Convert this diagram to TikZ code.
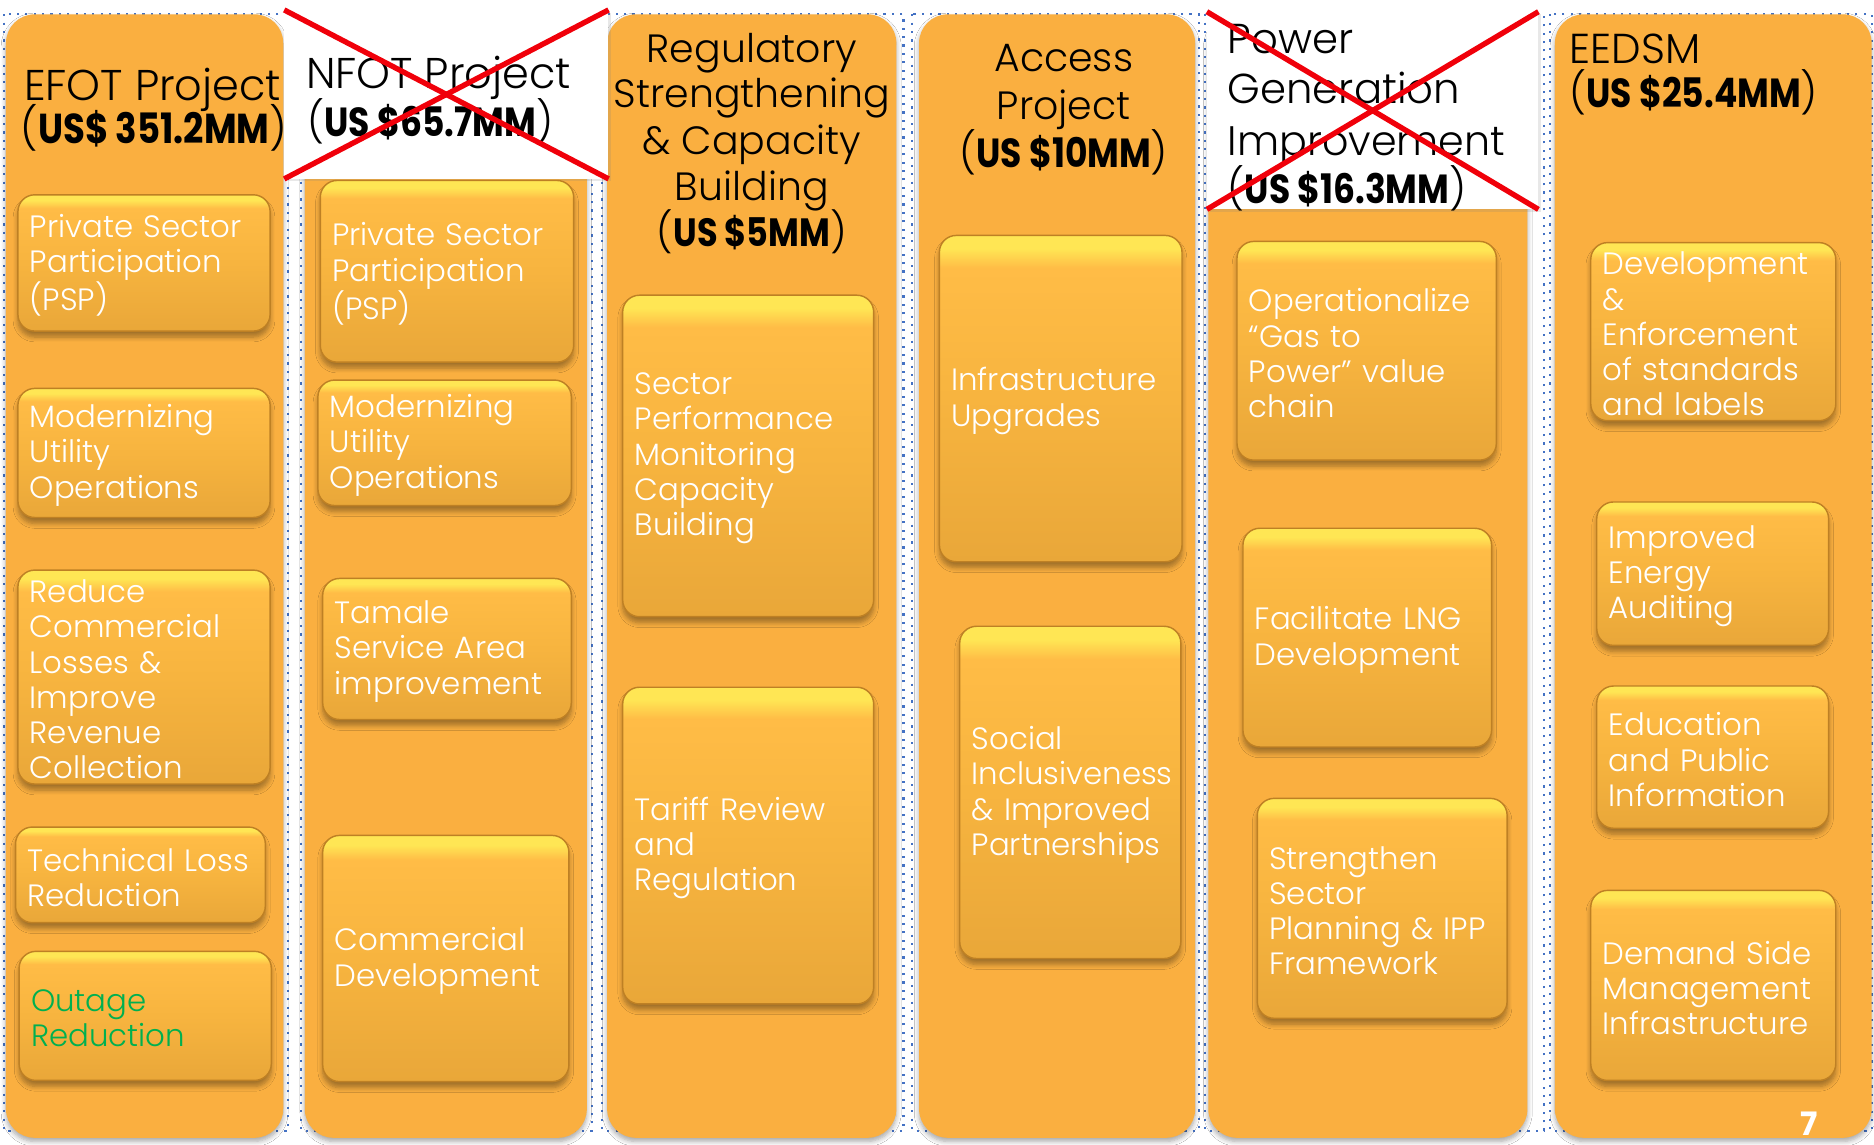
\documentclass[tikz,border=0pt]{standalone}
\usepackage{fontspec}
\setmainfont{Poppins}
\IfFontExistsTF{Poppins Light}{\newfontfamily\ltf{Poppins Light}}{\newfontfamily\ltf{Poppins}}
\newfontfamily\amtf{Poppins}[FakeStretch=0.85]
\usetikzlibrary{shadows}
\IfFileExists{tikzlibraryshadows.blur.code.tex}{\usetikzlibrary{shadows.blur}\def\hasblur{1}}{}
\definecolor{colO}{RGB}{250,175,64}
\definecolor{boxtop}{RGB}{255,188,70}
\definecolor{boxmid}{RGB}{247,180,63}
\definecolor{boxbot}{RGB}{233,167,57}
\definecolor{boxhl}{RGB}{255,230,84}
\definecolor{boxedge}{RGB}{190,128,36}
\definecolor{dotblue}{RGB}{68,114,196}
\definecolor{xred}{RGB}{240,0,10}
\definecolor{outg}{RGB}{0,176,80}
\pgfdeclareverticalshading{boxshade}{100bp}{color(0bp)=(boxbot); color(25bp)=(boxbot); color(50bp)=(boxmid); color(70bp)=(boxtop); color(73bp)=(boxhl); color(75bp)=(boxhl); color(100bp)=(boxhl)}
\ifdefined\hasblur
\tikzset{colsh/.style={blur shadow={shadow xshift=0pt, shadow yshift=-3pt, shadow blur radius=4pt, shadow blur steps=6, shadow opacity=35}},
         boxsh/.style={blur shadow={shadow xshift=0pt, shadow yshift=-5pt, shadow blur radius=4pt, shadow blur steps=6, shadow opacity=35}}}
\else
\tikzset{colsh/.style={drop shadow={opacity=0.2, shadow xshift=0pt, shadow yshift=-3pt}},
         boxsh/.style={drop shadow={opacity=0.25, shadow xshift=0pt, shadow yshift=-4pt}}}
\fi
\tikzset{
  colbox/.style={shape=rectangle, fill=colO, rounded corners=24pt, inner sep=0pt, colsh},
  xbox/.style={shape=rectangle, fill=white, inner sep=0pt, drop shadow={opacity=0.18, shadow xshift=2pt, shadow yshift=-2pt}},
  xline/.style={draw=xred, line width=4.5pt},
  dotframe/.style={draw=dotblue, line width=1.8pt, dash pattern=on 1.8pt off 5.2pt},
  sbox/.style={shape=rectangle, rounded corners=14pt, shading=boxshade, draw=boxedge, line width=1.2pt,
    inner sep=0pt, boxsh},
  stext/.style={inner sep=0pt, align=left, text=white,
    font={\ltf\fontsize{25.8}{29.5}\selectfont\hyphenpenalty=10000\exhyphenpenalty=10000}},
  ttl/.style={inner sep=0pt, text=black, font={\ltf\fontsize{33}{39}\selectfont}},
  pagenum/.style={inner sep=0pt, text=white, font={\bfseries\fontsize{27}{30}\selectfont}}
}
\newcommand\sbx[7][]{%
  \pgfmathsetmacro\bw{#5-#3}\pgfmathsetmacro\bh{#6-#4}\pgfmathsetmacro\tw{#5-#3-20}%
  \node[sbox, minimum width=\bw pt, minimum height=\bh pt] (#2) at ({(#3+#5)/2},{(#4+#6)/2}) {};
  \node[stext, text width=\tw pt, #1] (#2t) at ({(#3+#5)/2},{(#4+#6)/2+2}) {#7};}
\newcommand\colnode[5]{%
  \pgfmathsetmacro\bw{#4-#2}\pgfmathsetmacro\bh{#5-#3}%
  \node[colbox, minimum width=\bw pt, minimum height=\bh pt] (#1) at ({(#2+#4)/2},{(#3+#5)/2}) {};}
\newcommand\ttline[6][]{\node[ttl, anchor=#5, #1] (#2) at (#3,#4) {#6};}
\newcommand\amtx[1]{{\ltf(}{\amtf\bfseries #1}{\ltf)}}
\begin{document}
\begin{tikzpicture}[x=1pt,y=-1pt]
\useasboundingbox (0,0) rectangle (1568,958);
\fill[white] (0,0) rectangle (1568,958);
% dotted placeholder frames
\foreach \l/\r in {3/241, 252/495, 504/756, 763/1003, 1008/1292, 1297/1566}{
  \draw[dotframe] (\l,12) rectangle (\r,946);
}
% columns
\colnode{c1}{5}{12}{237}{952}
\colnode{c2}{255}{12}{491}{952}
\colnode{c3}{508}{12}{750}{952}
\colnode{c4}{769}{12}{1000}{952}
\colnode{c5}{1011}{12}{1278}{952}
\colnode{c6}{1301}{12}{1566}{952}
% crossed-out title panels
\node[xbox, minimum width=271pt, minimum height=141pt] (nfotx) at (373.5,79) {};
\node[xbox, minimum width=277pt, minimum height=165pt] (powx) at (1148.5,92.5) {};
% ---- titles
\ttline[font={\ltf\fontsize{36}{39}\selectfont}]{t1a}{20}{84}{base west}{EFOT Project}
\ttline[font={\ltf\fontsize{35}{39}\selectfont}]{t1b}{17}{120}{base west}{\amtx{US\$ 351.2MM}}
\ttline[font={\ltf\fontsize{36}{39}\selectfont}]{t2a}{256}{74}{base west}{NFOT Project}
\ttline[font={\ltf\fontsize{34}{39}\selectfont}]{t2b}{257}{114}{base west}{\amtx{US \$65.7MM}}
\ttline{t3a}{629}{52}{base}{Regulatory}
\ttline{t3b}{629}{90}{base}{Strengthening}
\ttline{t3c}{629}{129}{base}{\& Capacity}
\ttline{t3d}{629}{168}{base}{Building}
\ttline{t3e}{629}{206}{base}{\amtx{US \$5MM}}
\ttline{t4a}{890}{60}{base}{Access}
\ttline{t4b}{890}{100}{base}{Project}
\ttline[font={\ltf\fontsize{34}{39}\selectfont}]{t4c}{890}{140}{base}{\amtx{US \$10MM}}
\ttline[font={\ltf\fontsize{35}{39}\selectfont}]{t5a}{1027}{45}{base west}{Power}
\ttline[font={\ltf\fontsize{35}{39}\selectfont}]{t5b}{1027}{87}{base west}{Generation}
\ttline[font={\ltf\fontsize{34.5}{39}\selectfont}]{t5c}{1027}{130}{base west}{Improvement}
\ttline[font={\ltf\fontsize{34}{39}\selectfont}]{t5d}{1027}{170}{base west}{\amtx{US \$16.3MM}}
\ttline[font={\ltf\fontsize{35}{39}\selectfont}]{t6a}{1313}{53}{base west}{EEDSM}
\ttline[font={\ltf\fontsize{34}{39}\selectfont}]{t6b}{1313}{90}{base west}{\amtx{US \$25.4MM}}
% red crosses
\draw[xline] (nfotx.north west) -- (nfotx.south east);
\draw[xline] (nfotx.north east) -- (nfotx.south west);
\draw[xline] (powx.north west) -- (powx.south east);
\draw[xline] (powx.north east) -- (powx.south west);
% ---- EFOT boxes
\sbx{b11}{15}{163}{226}{277}{Private~Sector\\Participation\\(PSP)}
\sbx{b12}{15}{325}{226}{433}{Modernizing\\Utility\\Operations}
\sbx{b13}{15}{477}{226}{656}{Reduce\\Commercial\\Losses~\&\\Improve\\Revenue\\Collection}
\sbx{b14}{13}{692}{222}{772}{Technical~Loss\\Reduction}
\sbx[text=outg]{b15}{16}{796}{227}{904}{Outage\\Reduction}
% ---- NFOT boxes
\sbx{b21}{268}{151}{480}{303}{Private~Sector\\Participation\\(PSP)}
\sbx{b22}{266}{318}{478}{423}{Modernizing\\Utility\\Operations}
\sbx{b23}{270}{484}{478}{602}{Tamale\\Service~Area\\improvement}
\sbx{b24}{270}{699}{476}{905}{Commercial\\Development}
% ---- Regulatory boxes
\sbx{b31}{521}{247}{731}{516}{Sector\\Performance\\Monitoring\\Capacity\\Building}
\sbx{b32}{521}{575}{731}{840}{Tariff~Review\\and\\Regulation}
% ---- Access boxes
\sbx{b41}{786}{197}{989}{470}{Infrastructure\\Upgrades}
\sbx{b42}{803}{524}{988}{802}{Social\\Inclusiveness\\\&~Improved\\Partnerships}
% ---- Power boxes
\sbx{b51}{1035}{202}{1252}{385}{Operationalize\\“Gas~to\\Power”~value\\chain}
\sbx{b52}{1040}{442}{1248}{625}{Facilitate~LNG\\Development}
\sbx{b53}{1052}{668}{1261}{852}{Strengthen\\Sector\\Planning~\&~IPP\\Framework}
% ---- EEDSM boxes
\sbx{b61}{1331}{203}{1536}{352}{Development\\\&\\Enforcement\\of~standards\\and~labels}
\sbx{b62}{1336}{420}{1530}{540}{Improved\\Energy\\Auditing}
\sbx{b63}{1336}{574}{1530}{693}{Education\\and~Public\\Information}
\sbx{b64}{1331}{745}{1536}{904}{Demand~Side\\Management\\Infrastructure}
% page number
\node[pagenum, anchor=base] (pg) at (1514,950) {7};
\end{tikzpicture}
\end{document}
